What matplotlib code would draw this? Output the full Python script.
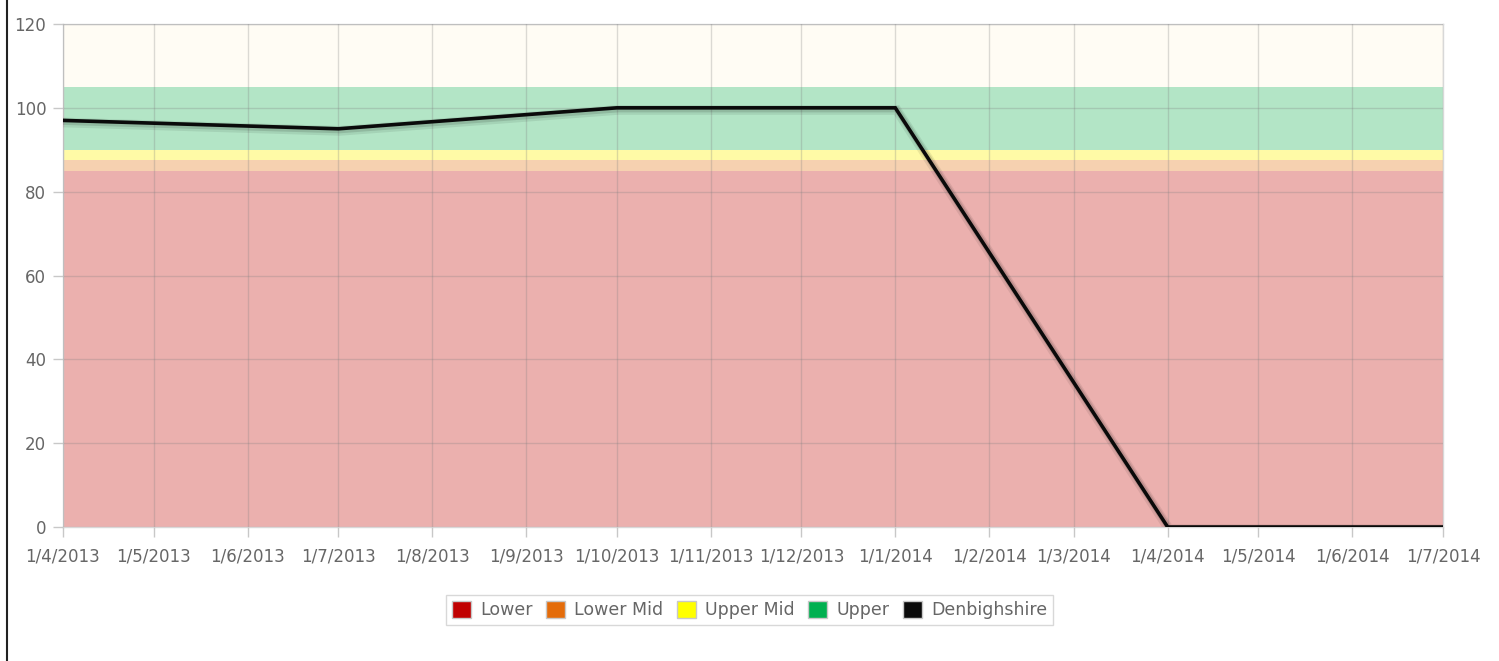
import matplotlib
matplotlib.use("Agg")
import matplotlib.pyplot as plt
from matplotlib.patches import Patch
from matplotlib.lines import Line2D
import matplotlib.patheffects as pe
import pandas as pd

# Denbighshire series (quarterly)
dates = pd.to_datetime(["2013-04-01", "2013-07-01", "2013-10-01",
                        "2014-01-01", "2014-04-01", "2014-07-01"])
values = [97, 95, 100, 100, 0, 0]

# band limits
band_names = ["Lower", "Lower Mid", "Upper Mid", "Upper"]
band_low = [0, 85, 87.5, 90]
band_high = [85, 87.5, 90, 105]
band_fill = ["#ebb0ae", "#f6d1b0", "#fffaa6", "#b3e5c6"]
band_legend = ["#c00000", "#e46c0a", "#ffff00", "#00b050"]
series_colour = "#0a0a0a"

tick_dates = pd.date_range("2013-04-01", "2014-07-01", freq="MS")

fig = plt.figure(figsize=(14.99, 6.61), dpi=100)
ax = fig.add_axes([0.042, 0.2027, 0.9207, 0.761])

ax.axhspan(105, 120, color="#fffcf4", zorder=0, lw=0)
for lo, hi, c in zip(band_low, band_high, band_fill):
    ax.axhspan(lo, hi, color=c, zorder=0, lw=0)

# soft shadow under the line
ax.plot(dates, values, color=series_colour, lw=2.6, zorder=3,
        solid_joinstyle="miter",
        path_effects=[pe.SimpleLineShadow(offset=(1, -1.5), shadow_color="black", alpha=0.08, linewidth=7),
                      pe.SimpleLineShadow(offset=(1, -1), shadow_color="black", alpha=0.12, linewidth=4.5),
                      pe.Normal()])

ax.set_ylim(0, 120)
ax.set_yticks(range(0, 121, 20))
ax.set_xlim(tick_dates[0], tick_dates[-1])
ax.set_xticks(tick_dates)
ax.set_xticklabels([f"{d.day}/{d.month}/{d.year}" for d in tick_dates])

ax.grid(True, color="#808080", alpha=0.28, lw=1, zorder=1)
ax.set_axisbelow(False)
for s in ax.spines.values():
    s.set_color("#d8d8d8")
    s.set_linewidth(1)
ax.tick_params(axis="both", colors="#c8c8c8", labelcolor="#666666",
               labelsize=12, length=7, width=1, pad=5)
ax.tick_params(axis="x", pad=8)

handles = [Patch(facecolor=c, edgecolor="#c8c8c8", lw=1) for c in band_legend]
handles.append(Patch(facecolor=series_colour, edgecolor="#c8c8c8", lw=1))
leg = fig.legend(handles, band_names + ["Denbighshire"], loc="center",
                 bbox_to_anchor=(0.5, 0.077), ncol=5, frameon=True,
                 fancybox=False, handlelength=1.1, handleheight=1.1,
                 handletextpad=0.55, columnspacing=0.75, borderpad=0.35,
                 fontsize=12.5, labelcolor="#666666")
leg.get_frame().set_edgecolor("#cfcfcf")
leg.get_frame().set_linewidth(1)

# left screenshot frame edge
fig.add_artist(Line2D([0.0045, 0.0045], [0, 1], color="#222222", lw=1.5,
                      transform=fig.transFigure))

fig.savefig("out.png", dpi=100)
